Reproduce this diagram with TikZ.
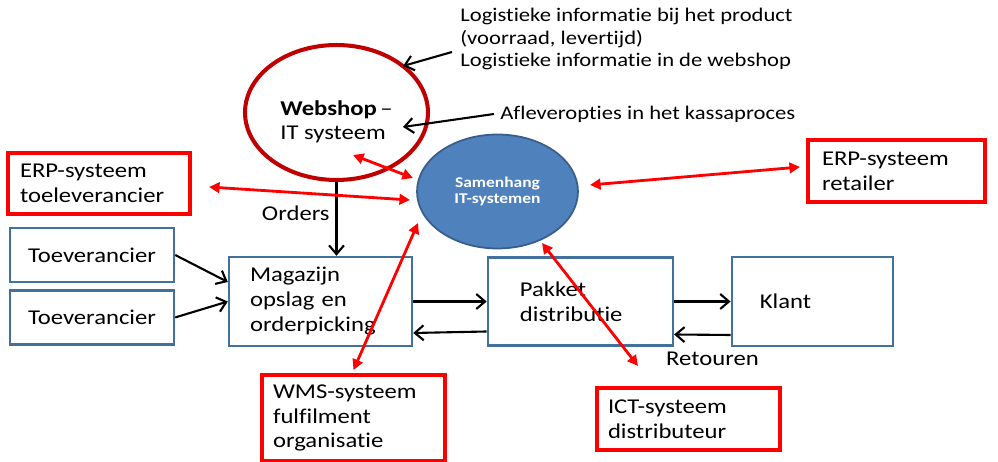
\documentclass[tikz,border=0pt]{standalone}
\usepackage{fontspec}
\setmainfont{Carlito}[FakeStretch=1.17, Ligatures=NoCommon]
\usepackage{xcolor}
\usetikzlibrary{shapes.geometric, arrows.meta, positioning}

\definecolor{boxblue}{HTML}{41719C}
\definecolor{samblue}{HTML}{4F81BD}
\definecolor{samedge}{HTML}{385D8A}
\definecolor{webred}{HTML}{C00000}

\begin{document}
\begin{tikzpicture}[
        x=0.02cm, y=-0.02cm,
        blok/.style={rectangle, draw=boxblue, line width=1.4pt, align=left, inner ysep=0pt, font={\fontsize{12}{14.2}\selectfont}},
        sysbox/.style={rectangle, draw=red, line width=2.3pt, align=left, inner ysep=0pt, font={\fontsize{12}{14.2}\selectfont}},
        note/.style={align=left, inner sep=0pt, font={\fontsize{11}{12.6}\selectfont}},
        flow/.style={-{Straight Barb[length=5pt,width=8.5pt]}, line width=1.2pt},
        sync/.style={{Triangle[length=6pt,width=6pt]}-{Triangle[length=6pt,width=6pt]}, line width=1.6pt, draw=red}
    ]
    \useasboundingbox (0,0) rectangle (998,462);

    % Webshop en samenhang
    \node[ellipse, draw=webred, line width=2.3pt, minimum width=3.66cm, minimum height=2.7cm, align=left, font={\fontsize{12}{14.2}\selectfont}] (web) at (336.5,112.5) {\rule{0pt}{19pt}\textbf{Webshop}\,–\\IT systeem};
    \node[ellipse, fill=samblue, draw=samedge, line width=1pt, minimum width=3.22cm, minimum height=2.28cm, text=white, align=center, font={\fontsize{8.5}{9.6}\selectfont\bfseries}] (sam) at (497.5,191.5) {Samenhang\\IT-systemen};

    % Toelichting
    \node[note, anchor=west] (info) at (460,39) {Logistieke informatie bij het product\\(voorraad, levertijd)\\Logistieke informatie in de webshop};
    \node[note, anchor=west] (aflev) at (500,114) {Afleveropties in het kassaproces};

    % Systemen
    \node[sysbox, text width=3.16cm, inner xsep=0.24cm, minimum height=1.22cm] (erpT) at (99,183.5) {ERP-systeem\\toeleverancier};
    \node[sysbox, text width=2.98cm, inner xsep=0.28cm, minimum height=1.24cm] (erpR) at (896.5,171) {ERP-systeem\\retailer};
    \node[sysbox, text width=3.22cm, inner xsep=0.22cm, minimum height=1.72cm] (wms) at (353.5,418) {WMS-systeem\\fulfilment\\organisatie};
    \node[sysbox, text width=3.22cm, inner xsep=0.22cm, minimum height=1.24cm] (ict) at (688.5,419) {ICT-systeem\\distributeur};

    % Goederenstroom
    \node[blok, align=center, minimum width=3.28cm, minimum height=1.08cm] (toe1) at (92,255) {Toeverancier};
    \node[blok, align=center, minimum width=3.28cm, minimum height=1.08cm, below=0.12cm of toe1] (toe2) {Toeverancier};
    \node[blok, text width=2.82cm, inner xsep=0.42cm, minimum height=1.78cm] (mag) at (320.5,301.5) {Magazijn\\opslag en\\orderpicking};
    \node[blok, text width=2.42cm, inner xsep=0.64cm, minimum height=1.76cm, right=1.47cm of mag] (pak) {Pakket\\distributie};
    \node[blok, text width=2.1cm, inner xsep=0.56cm, minimum height=1.78cm, right=1.13cm of pak] (klant) {Klant};

    % Zwarte pijlen
    \draw[flow] ([shift={(-8,13)}]info.west) -- ([shift={(66.5,-46.5)}]web.center);
    \draw[flow] ([shift={(-6,0)}]aflev.west) -- ([shift={(66.5,14.5)}]web.center);
    \draw[flow] (web.south) -- node[left, pos=0.42] {\fontsize{12}{14.2}\selectfont Orders} (web.south |- mag.north);
    \draw[flow] (toe1.east) -- ([yshift=0.39cm]mag.west);
    \draw[flow] (toe2.east) -- (mag.west);
    \draw[flow] (mag.east) -- (mag.east -| pak.west);
    \draw[flow] ([yshift=-0.6cm]pak.west) -- ([yshift=-0.63cm]mag.east);
    \draw[flow] (pak.east) -- (pak.east -| klant.west);
    \draw[flow] ([yshift=-0.67cm]klant.west) -- node[below=6pt, pos=0.32] {\fontsize{12}{14.2}\selectfont Retouren} ([yshift=-0.66cm]pak.east);

    % Rode koppelingen
    \draw[sync] ([shift={(16.5,42.5)}]web.center) -- ([shift={(-84.5,-13.5)}]sam.center);
    \draw[sync] ([shift={(17,3.5)}]erpT.east) -- ([shift={(-87.5,8.5)}]sam.center);
    \draw[sync] ([shift={(92.5,-6.5)}]sam.center) -- ([shift={(-6,-4)}]erpR.west);
    \draw[sync] ([shift={(-79.5,31.5)}]sam.center) -- ([shift={(0,-3)}]wms.north);
    \draw[sync] ([shift={(44.5,51.5)}]sam.center) -- ([shift={(-50.5,-20)}]ict.north);

\end{tikzpicture}
\end{document}
